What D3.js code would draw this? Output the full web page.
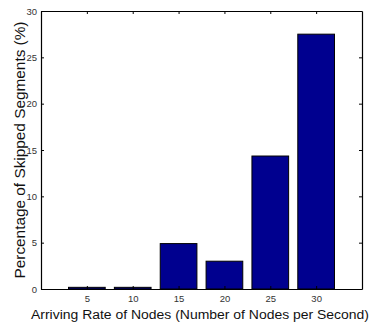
<!DOCTYPE html>
<html>
<head>
<meta charset="utf-8">
<script src="https://cdn.jsdelivr.net/npm/d3@7"></script>
<style>
  body { margin: 0; background: #fff; }
  text { font-family: "Liberation Sans", Arial, sans-serif; }
</style>
</head>
<body>
<div id="chart"></div>
<script>
// data
var rates = [5, 10, 15, 20, 25, 30];
var skipped = [0.18, 0.18, 4.9, 3.0, 14.35, 27.5];
var yTicks = [0, 5, 10, 15, 20, 25, 30];

var attrs = {
    svgWidth: 370,
    svgHeight: 325,
    left: 41,
    right: 362,
    top: 11,
    bottom: 289
};

var svg = d3.select('#chart')
    .append('svg')
    .attr('width', attrs.svgWidth)
    .attr('height', attrs.svgHeight);

var x = d3.scaleLinear().domain([0, 35]).range([attrs.left, attrs.right]);
var y = d3.scaleLinear().domain([0, 30]).range([attrs.bottom, attrs.top]);

var barW = 4; // in data units (0.8 of spacing)

// bars
svg.selectAll('rect.bar')
    .data(rates)
    .enter()
    .append('rect')
    .attr('class', 'bar')
    .attr('x', d => x(d - barW / 2))
    .attr('width', d => x(d + barW / 2) - x(d - barW / 2))
    .attr('y', (d, i) => y(skipped[i]))
    .attr('height', (d, i) => y(0) - y(skipped[i]))
    .attr('fill', '#00008f')
    .attr('stroke', '#000')
    .attr('stroke-width', 1);

// axes with inward ticks
var tl = 3;
var gx = svg.append('g')
    .attr('transform', 'translate(0,' + attrs.bottom + ')')
    .call(d3.axisBottom(x).tickValues(rates).tickSizeInner(-tl).tickSizeOuter(0).tickPadding(6));
var gxt = svg.append('g')
    .attr('transform', 'translate(0,' + attrs.top + ')')
    .call(d3.axisTop(x).tickValues(rates).tickSizeInner(-tl).tickSizeOuter(0).tickFormat(''));
var gy = svg.append('g')
    .attr('transform', 'translate(' + attrs.left + ',0)')
    .call(d3.axisLeft(y).tickValues(yTicks).tickSizeInner(-tl).tickSizeOuter(0).tickPadding(4));
var gyr = svg.append('g')
    .attr('transform', 'translate(' + attrs.right + ',0)')
    .call(d3.axisRight(y).tickValues(yTicks).tickSizeInner(-tl).tickSizeOuter(0).tickFormat(''));

[gx, gxt, gy, gyr].forEach(function (g) {
    g.select('.domain').attr('stroke', '#000').attr('stroke-width', 1.2);
    g.selectAll('.tick line').attr('stroke', '#000');
    g.selectAll('.tick text')
        .attr('fill', '#333')
        .style('font-size', '9.5px')
        .style('font-family', '"Liberation Sans", Arial, sans-serif');
});

// axis labels
svg.append('text')
    .attr('x', 200)
    .attr('y', 319)
    .attr('text-anchor', 'middle')
    .attr('textLength', 338)
    .attr('lengthAdjust', 'spacingAndGlyphs')
    .style('font-size', '12.5px')
    .attr('fill', '#111')
    .text('Arriving Rate of Nodes (Number of Nodes per Second)');

svg.append('text')
    .attr('transform', 'translate(25,' + 150 + ') rotate(-90)')
    .attr('text-anchor', 'middle')
    .attr('textLength', 257)
    .attr('lengthAdjust', 'spacingAndGlyphs')
    .style('font-size', '15px')
    .attr('fill', '#111')
    .text('Percentage of Skipped Segments (%)');
</script>
</body>
</html>
